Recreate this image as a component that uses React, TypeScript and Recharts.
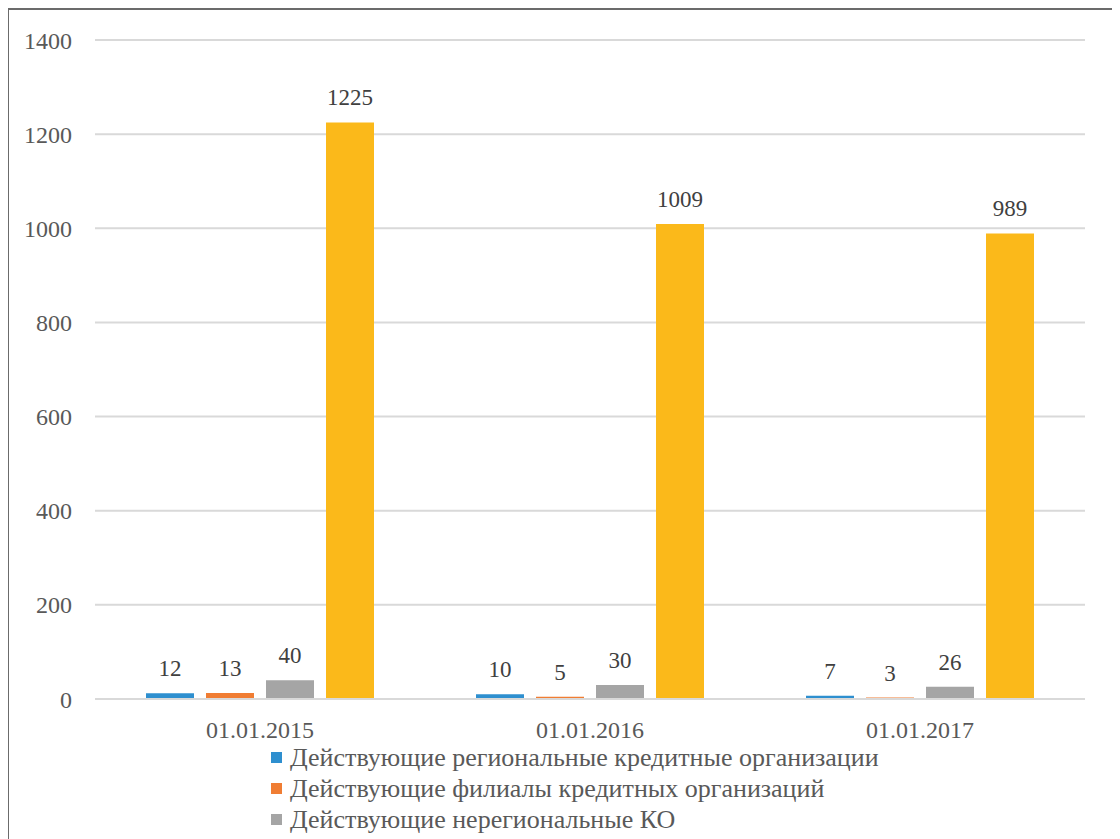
import React from 'react';
import {
    BarChart,
    Bar,
    XAxis,
    YAxis,
    CartesianGrid,
    Legend,
    LabelList,
} from 'recharts';

const dates = ['01.01.2015', '01.01.2016', '01.01.2017'];
const regionalKO = [12, 10, 7];
const branchesKO = [13, 5, 3];
const nonRegionalKO = [40, 30, 26];
const branchesNonRegional = [1225, 1009, 989];
const yTicks = [0, 200, 400, 600, 800, 1000, 1200, 1400];

const seriesNames = [
    'Действующие региональные кредитные организации',
    'Действующие филиалы кредитных организаций',
    'Действующие нерегиональные КО',
    'Действующие филиалы нерегиональных КО',
];

const colors = ['#2e8fcf', '#f07d33', '#a5a5a5', '#fbb91a'];
const font = 'Liberation Serif, Times New Roman, serif';
const textColor = '#595959';
const gridColor = '#d9d9d9';

const chartData = dates.map((date, i) => ({
    date,
    s0: regionalKO[i],
    s1: branchesKO[i],
    s2: nonRegionalKO[i],
    s3: branchesNonRegional[i],
}));

// legend keeps the series order; the fourth series is left out
const renderLegend = () => (
    <div style={{ fontFamily: font, fontSize: 26, color: textColor, lineHeight: 1 }}>
        {seriesNames.slice(0, 3).map((name, i) => (
            <div
                key={name}
                style={{ display: 'flex', alignItems: 'center', height: 31, whiteSpace: 'nowrap' }}
            >
                <span
                    style={{
                        display: 'inline-block',
                        width: 11,
                        height: 11,
                        background: colors[i],
                        marginRight: 8,
                    }}
                />
                {name}
            </div>
        ))}
    </div>
);

export default function App() {
    return (
        <div
            style={{
                position: 'relative',
                width: 1113,
                height: 831,
                marginLeft: -1,
                borderTop: '2px solid #6b6b6b',
                borderLeft: '2px solid #6b6b6b',
                overflow: 'hidden',
                background: '#fff',
            }}
        >
            <BarChart
                width={1111}
                height={829}
                data={chartData}
                margin={{ top: 30, right: 35, bottom: 100, left: 0 }}
                barSize={48}
                barGap={12}
            >
                <CartesianGrid vertical={false} stroke={gridColor} strokeWidth={2} />
                <XAxis
                    dataKey="date"
                    height={40}
                    axisLine={{ stroke: gridColor, strokeWidth: 2 }}
                    tickLine={false}
                    tickSize={0}
                    tickMargin={22}
                    tick={{ fill: textColor, fontSize: 24, fontFamily: font }}
                />
                <YAxis
                    width={86}
                    domain={[0, 1400]}
                    ticks={yTicks}
                    axisLine={false}
                    tickLine={false}
                    tickSize={0}
                    tickMargin={23}
                    tick={{ fill: textColor, fontSize: 24, fontFamily: font }}
                />
                <Legend
                    layout="horizontal"
                    verticalAlign="middle"
                    align="center"
                    content={renderLegend}
                    wrapperStyle={{ top: 732, left: 262, width: 780, height: 96 }}
                />
                {['s0', 's1', 's2', 's3'].map((key, i) => (
                    <Bar
                        key={key}
                        dataKey={key}
                        name={seriesNames[i]}
                        fill={colors[i]}
                        legendType={i === 3 ? 'none' : 'square'}
                        isAnimationActive={false}
                    >
                        <LabelList
                            dataKey={key}
                            position="top"
                            offset={17}
                            fill="#404040"
                            fontSize={23}
                            fontFamily={font}
                        />
                    </Bar>
                ))}
            </BarChart>
        </div>
    );
}
